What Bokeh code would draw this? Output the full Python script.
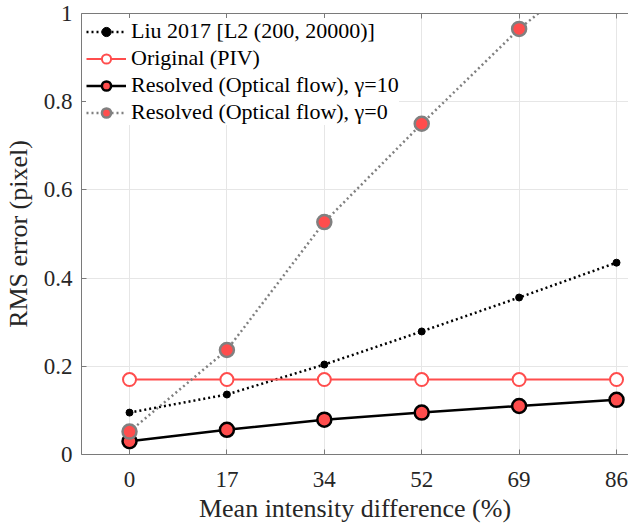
from bokeh.plotting import figure
from bokeh.models import Range1d, FixedTicker, LinearAxis, Legend, LegendItem
from bokeh.embed import file_html
from bokeh.resources import INLINE

# ---- data ----
pct_labels = ["0", "17", "34", "52", "69", "86"]
xpos = [0, 1, 2, 3, 4, 5]
liu2017 = [0.095, 0.136, 0.204, 0.279, 0.356, 0.435]
original_piv = [0.170, 0.170, 0.170, 0.170, 0.170, 0.170]
resolved_g10 = [0.030, 0.056, 0.079, 0.095, 0.110, 0.124]
resolved_g0 = [0.052, 0.237, 0.527, 0.750, 0.965, 1.143]
y_ticks = [0, 0.2, 0.4, 0.6, 0.8, 1.0]
y_tick_labels = {0: "0", 0.2: "0.2", 0.4: "0.4", 0.6: "0.6", 0.8: "0.8", 1.0: "1"}

RED = "#ff4d4d"
GRAY = "#808080"
FONT = "Liberation Serif"
AX = "#7a7a7a"
TXT = "#262626"

p = figure(width=628, height=527, x_range=Range1d(-0.493, 5.123), y_range=Range1d(0, 1),
           output_backend="svg", toolbar_location=None,
           min_border_left=81, min_border_right=0, min_border_top=13, min_border_bottom=73,
           x_axis_label="Mean intensity difference (%)", y_axis_label="RMS error (pixel)")
p.outline_line_color = None
p.background_fill_color = "white"
p.border_fill_color = "white"

# axes
xa = p.xaxis[0]
xa.ticker = FixedTicker(ticks=xpos)
xa.major_label_overrides = {i: s for i, s in zip(xpos, pct_labels)}
ya = p.yaxis[0]
ya.ticker = FixedTicker(ticks=y_ticks)
ya.major_label_overrides = y_tick_labels
for ax in (xa, ya):
    ax.major_tick_in = 5
    ax.major_tick_out = 0
    ax.minor_tick_in = 0
    ax.minor_tick_out = 0
    ax.axis_line_color = AX
    ax.major_tick_line_color = AX
    ax.major_label_text_font = FONT
    ax.major_label_text_font_size = "23px"
    ax.major_label_text_color = TXT
    ax.axis_label_text_font = FONT
    ax.axis_label_text_font_size = "26px"
    ax.axis_label_text_font_style = "normal"
    ax.axis_label_text_color = TXT
xa.major_label_standoff = 17
xa.axis_label_standoff = 4
ya.major_label_standoff = 9
ya.axis_label_standoff = 8

# top frame edge: line plus inward minor ticks (no labels)
top = LinearAxis(ticker=FixedTicker(ticks=[], minor_ticks=xpos),
                 major_tick_in=0, major_tick_out=0,
                 minor_tick_in=5, minor_tick_out=0, axis_line_color=AX,
                 minor_tick_line_color=AX, major_label_standoff=0)
p.add_layout(top, "above")

p.xgrid.ticker = FixedTicker(ticks=xpos)
p.ygrid.ticker = FixedTicker(ticks=y_ticks)
for g in (p.xgrid, p.ygrid):
    g.grid_line_color = "#e6e6e6"
    g.grid_line_width = 1

# series
l1 = p.line(xpos, liu2017, line_color="black", line_width=2.5, line_dash="2 3")
s1 = p.scatter(xpos, liu2017, size=7, fill_color="black", line_color="black")

l2 = p.line(xpos, original_piv, line_color=RED, line_width=2)
s2 = p.scatter(xpos, original_piv, size=13, fill_color="white", line_color=RED, line_width=2)

l3 = p.line(xpos, resolved_g10, line_color="black", line_width=2.5)
s3 = p.scatter(xpos, resolved_g10, size=14, fill_color=RED, line_color="black", line_width=2.5)

l4 = p.line(xpos, resolved_g0, line_color=GRAY, line_width=2.5, line_dash="2 3")
s4 = p.scatter(xpos, resolved_g0, size=14, fill_color=RED, line_color=GRAY, line_width=2.5)

legend = Legend(items=[
    LegendItem(label="Liu 2017 [L2 (200, 20000)]", renderers=[l1, s1]),
    LegendItem(label="Original (PIV)", renderers=[l2, s2]),
    LegendItem(label="Resolved (Optical flow), \u03b3=10", renderers=[l3, s3]),
    LegendItem(label="Resolved (Optical flow), \u03b3=0", renderers=[l4, s4]),
], location="top_left")
legend.margin = 5
legend.padding = 7
legend.spacing = 1
legend.glyph_width = 40
legend.glyph_height = 23
legend.label_height = 23
legend.label_standoff = 5
legend.label_text_font = FONT
legend.label_text_font_size = "22px"
legend.label_text_color = "black"
legend.border_line_color = None
legend.background_fill_color = "white"
legend.background_fill_alpha = 1.0
p.add_layout(legend)

open("out.html", "w").write(file_html(p, INLINE))
